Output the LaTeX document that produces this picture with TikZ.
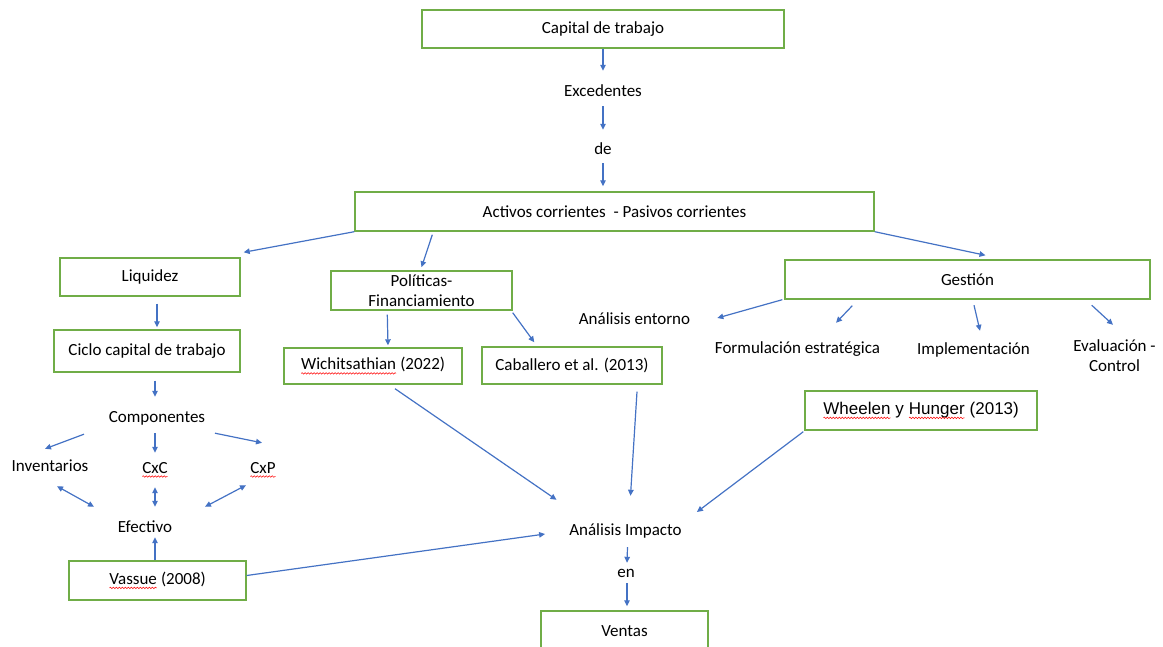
\documentclass[tikz,border=0pt]{standalone}
\usepackage{fontspec}
\setmainfont{Carlito}
\newfontfamily\arialfont{Liberation Sans}
\usetikzlibrary{arrows.meta,calc,decorations.pathmorphing}
\definecolor{boxgreen}{RGB}{112,173,71}
\definecolor{arrowblue}{RGB}{68,114,196}
\newcommand\spellerr[1]{\tikz[baseline=(sw.base)]{\node[draw=none, inner sep=0pt, outer sep=0pt, minimum width=0pt, minimum height=0pt] (sw) {#1};
  \draw[red, line width=0.5pt, decorate, decoration={snake,segment length=3pt,amplitude=0.8pt}] ([yshift=-3.5pt]sw.base west) -- ([yshift=-3.5pt]sw.base east);}}

\begin{document}
\begin{tikzpicture}[x=1pt,y=-1pt,
  every node/.style={font=\fontsize{17}{20}\selectfont},
  box/.style={draw=boxgreen, line width=1.4pt, inner sep=0pt, align=center},
  lbl/.style={inner sep=0pt, text height=13pt, text depth=1pt},
  arr/.style={draw=arrowblue, line width=1.2pt, -{Triangle[length=6pt,width=5.5pt]}},
  darr/.style={arr, {Triangle[length=6pt,width=5.5pt]}-{Triangle[length=6pt,width=5.5pt]}}]
  \useasboundingbox (0,0) rectangle (1163,647);
  \node[box, minimum width=362pt, minimum height=38pt] (cap) at (603,29) {Capital de trabajo};
  \node[lbl] (exc) at (603,91) {Excedentes};
  \node[lbl] (de) at (603,149) {de};
  \node[box, minimum width=519pt, minimum height=39pt] (act) at (614.5,211.5) {Activos corrientes\ \ - Pasivos corrientes};
  \node[box, minimum width=180pt, minimum height=38pt] (liq) at (150,277) {Liquidez};
  \node[box, minimum width=181pt, minimum height=39pt] (pol) at (421.5,290.5) {Políticas-\\Financiamiento};
  \node[box, minimum width=365pt, minimum height=39pt] (ges) at (967.5,279.5) {Gestión};
  \node[box, minimum width=186pt, minimum height=42pt] (cic) at (147,351) {Ciclo capital de trabajo};
  \node[box, minimum width=178pt, minimum height=36pt] (wic) at (373,366) {\spellerr{Wichitsathian} (2022)};
  \node[box, minimum width=180pt, minimum height=37pt] (cab) at (572,365.5) {Caballero et al. (2013)};
  \node[box, minimum width=232pt, minimum height=39pt, font=\arialfont\fontsize{17}{20}\selectfont] (whe) at (921,410.5) {\spellerr{Wheelen} y \spellerr{Hunger} (2013)};
  \node[lbl] (ent) at (634.5,319) {Análisis entorno};
  \node[lbl] (frm) at (797.5,347) {Formulación estratégica};
  \node[lbl] (imt) at (973.5,348) {Implementación};
  \node[inner sep=0pt, align=center] (eva) at (1114.5,356) {Evaluación -\\Control};
  \node[lbl] (com) at (157,416) {Componentes};
  \node[lbl] (inv) at (50,465) {Inventarios};
  \node[lbl] (cxc) at (155,467) {\spellerr{CxC}};
  \node[lbl] (cxp) at (263,467) {\spellerr{CxP}};
  \node[lbl] (efe) at (145,526) {Efectivo};
  \node[box, minimum width=177pt, minimum height=39pt] (vas) at (157.5,580.5) {\spellerr{Vassue} (2008)};
  \node[lbl] (imp) at (625.5,529) {Análisis Impacto};
  \node[lbl] (en) at (626,571) {en};
  \node[box, minimum width=167pt, minimum height=40pt] (ven) at (624.5,631) {Ventas};

  \draw[arr] (cap.south) -- ($(exc.north)+(0,-13)$);
  \draw[arr] ($(exc.south)+(0,8)$) -- ($(de.north)+(0,-12)$);
  \draw[arr, shorten >=5pt] ($(de.south)+(0,7)$) -- (de |- act.north);
  \draw[arr] (act.south west) -- ($(liq.north east)+(3,-5)$);
  \draw[arr] ($(act.south west)+(78,3)$) -- ($(pol.north)+(0,-3)$);
  \draw[arr] (act.south east) -- ($(ges.north)+(18,-4)$);
  \draw[arr] ($(liq.south)+(7,7)$) -- ($(cic.north)+(10,-2)$);
  \draw[arr] ($(cic.south)+(8,8)$) -- ($(com.north)+(-2,-12)$);
  \draw[arr] ($(com.south)+(-73,11)$) -- ($(inv.north)+(-5,-9)$);
  \draw[arr] ($(com.south)+(-2,10)$) -- ($(cxc.north)+(0,-7)$);
  \draw[arr] ($(com.south)+(58,10)$) -- ($(cxp.north)+(-1,-17)$);
  \draw[darr] ($(inv.south)+(7,14)$) -- ($(efe.north)+(-51,-12)$);
  \draw[darr] ($(cxc.south)+(0,13)$) -- ($(efe.north)+(10,-12)$);
  \draw[darr] ($(cxp.south)+(-17,11)$) -- ($(efe.north)+(60,-12)$);
  \draw[arr] ($(vas.north)+(-2.5,0)$) -- ($(efe.south)+(10,4)$);
  \draw[arr] ($(vas.east)+(0,-5)$) -- ($(imp.west)+(-24,5)$);
  \draw[arr] ($(imp.south)+(2,11)$) -- ($(en.north)+(1,-1)$);
  \draw[arr] ($(en.south)+(1,5)$) -- ($(ven.north)+(2.5,-4)$);
  \draw[arr] ($(pol.south west)+(57,4)$) -- ($(wic.north)+(15,-2)$);
  \draw[arr] ($(pol.south east)+(0,2)$) -- ($(cab.north west)+(53,-4)$);
  \draw[arr] ($(wic.south)+(22,4)$) -- ($(imp.north)+(-69,-22)$);
  \draw[arr] ($(cab.south)+(65,7)$) -- ($(imp.north)+(5,-26)$);
  \draw[arr] ($(whe.south west)+(-1,1)$) -- ($(imp.east)+(15,-17)$);
  \draw[arr] ($(ges.south west)+(-2,0)$) -- ($(ent.east)+(27,-1)$);
  \draw[arr] ($(ges.south west)+(68,6)$) -- ($(frm.north)+(38.5,-17)$);
  \draw[arr] ($(ges.south)+(6.5,5.5)$) -- ($(imt.north)+(6.5,-10)$);
  \draw[arr] ($(ges.south east)+(-59,5.5)$) -- ($(eva.north)+(-1.5,-15)$);
\end{tikzpicture}
\end{document}
